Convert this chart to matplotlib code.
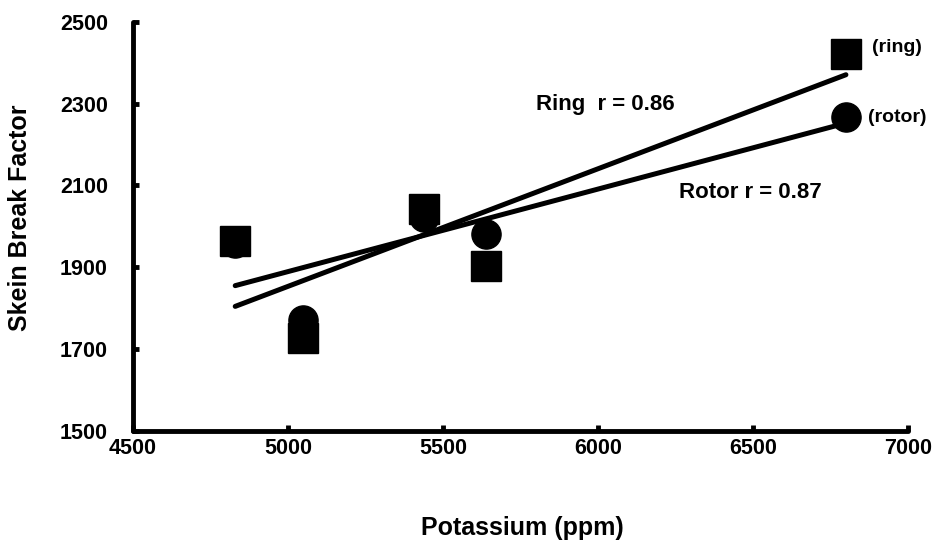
import numpy as np
import matplotlib
matplotlib.use("Agg")
import matplotlib.pyplot as plt

# Данные: калий (ppm) и коэффициент обрыва мотка
potassium = [4830, 5050, 5440, 5640, 6800]
ring_sbf = [1965, 1727, 2043, 1903, 2422]
rotor_sbf = [1960, 1771, 2023, 1982, 2268]

x_ticks = [4500, 5000, 5500, 6000, 6500, 7000]
y_ticks = [1500, 1700, 1900, 2100, 2300, 2500]

plt.rcParams['font.family'] = ['Liberation Sans', 'DejaVu Sans']
plt.rcParams['font.weight'] = 'bold'

fig = plt.figure(figsize=(9.36, 5.59), dpi=100)
ax = fig.add_axes([0.142, 0.229, 0.828, 0.732])

x = np.array(potassium)
# Линии регрессии для ring и rotor
for y in (ring_sbf, rotor_sbf):
    k, b = np.polyfit(x, np.array(y), 1)
    xs = np.array([x.min(), x.max()])
    ax.plot(xs, k * xs + b, color='black', lw=3.6, solid_capstyle='round', zorder=2)

ax.plot(potassium, rotor_sbf, 'o', color='black', ms=21, zorder=3)
ax.plot(potassium, ring_sbf, 's', color='black', ms=21, zorder=3)

ax.text(6025, 2297, "Ring  r = 0.86", fontsize=16, fontweight='bold', ha='center', va='center')
ax.text(6493, 2082, "Rotor r = 0.87", fontsize=16, fontweight='bold', ha='center', va='center')
ax.text(6885, 2436, "(ring)", fontsize=14, fontweight='bold', ha='left', va='center')
ax.text(6872, 2265, "(rotor)", fontsize=14, fontweight='bold', ha='left', va='center')

ax.set_xlim(4500, 7000)
ax.set_ylim(1500, 2500)
ax.set_xticks(x_ticks)
ax.set_yticks(y_ticks)
ax.tick_params(direction='in', length=4.5, width=3.5, labelsize=15.5)
ax.tick_params(axis='y', pad=18)
ax.tick_params(axis='x', pad=5)
for lbl in ax.get_xticklabels() + ax.get_yticklabels():
    lbl.set_fontweight('bold')

for s in ('top', 'right'):
    ax.spines[s].set_visible(False)
for s in ('left', 'bottom'):
    ax.spines[s].set_linewidth(3.5)
    ax.spines[s].set_capstyle('round')

fig.text(0.021, 0.61, "Skein Break Factor", rotation=90, fontsize=18, fontweight='bold',
         ha='center', va='center')
fig.text(0.558, 0.055, "Potassium (ppm)", fontsize=18, fontweight='bold', ha='center', va='center')

fig.savefig("out.png", dpi=100)
